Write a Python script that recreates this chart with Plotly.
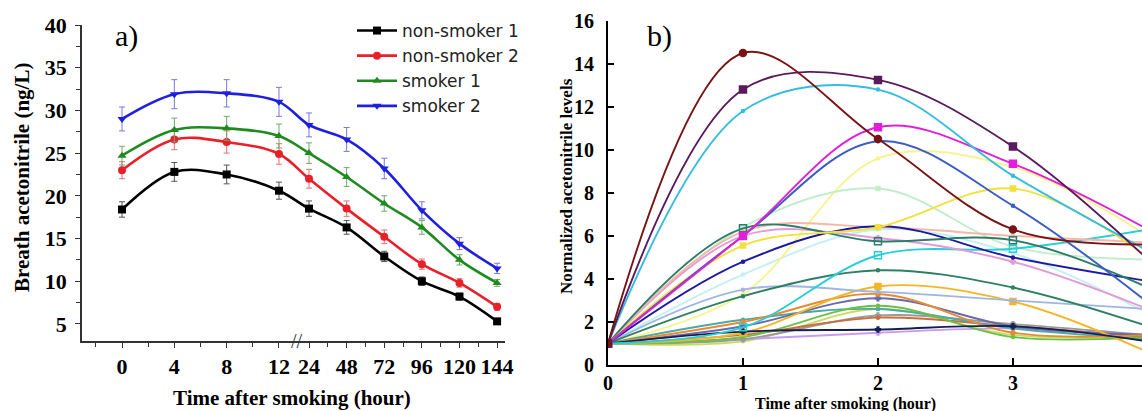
import plotly.graph_objects as go

# ---------------- Panel a data ----------------
times_a = [0, 4, 8, 12, 24, 48, 72, 96, 120, 144]
tick_labels_a = ["0", "4", "8", "12", "24", "48", "72", "96", "120", "144"]
names_a = ["non-smoker 1", "non-smoker 2", "smoker 1", "smoker 2"]
ns1 = [18.4, 22.8, 22.5, 20.6, 18.5, 16.3, 12.9, 10.0, 8.2, 5.3]
ns2 = [23.0, 26.6, 26.3, 24.9, 22.0, 18.5, 15.2, 12.0, 9.8, 7.0]
s1 = [24.7, 27.7, 27.9, 27.0, 25.0, 22.2, 19.1, 16.3, 12.5, 9.8]
s2 = [29.0, 31.9, 32.0, 31.0, 28.3, 26.6, 23.2, 18.3, 14.4, 11.5]
ns1_err = [0.9, 1.1, 1.1, 1.0, 0.9, 0.8, 0.6, 0.5, 0.4, 0.3]
ns2_err = [1.0, 1.2, 1.3, 1.2, 1.1, 0.9, 0.8, 0.6, 0.5, 0.4]
s1_err = [1.1, 1.4, 1.4, 1.4, 1.2, 1.1, 0.9, 0.8, 0.6, 0.4]
s2_err = [1.4, 1.7, 1.6, 1.7, 1.4, 1.4, 1.2, 1.0, 0.7, 0.6]

# ---------------- Panel b data ----------------
times_b = [0, 1, 2, 3, 4]
b_light_cyan = [1, 4.2, 6.3, 5.2, 2.4]
b_light_yellow = [1, 3.3, 9.6, 9.2, 6.0]
b_pale_green = [1, 6.4, 8.2, 5.5, 4.9]
b_yellowgreen = [1, 1.1, 2.6, 1.4, 1.3]
b_lavender = [1, 1.2, 1.5, 1.7, 1.3]
b_gray = [1, 1.2, 2.3, 1.9, 1.4]
b_brown = [1, 1.4, 2.2, 1.8, 1.3]
b_teal = [1, 2.1, 2.6, 1.7, 1.2]
b_lime = [1, 1.3, 2.75, 1.3, 1.3]
b_slate = [1, 1.8, 3.1, 1.8, 1.4]
b_orange = [1, 2.0, 3.3, 1.5, 1.4]
b_gold = [1, 1.5, 3.65, 2.95, 0.6]
b_steel = [1, 3.5, 3.4, 3.0, 2.6]
b_dark_green = [1, 3.2, 4.4, 3.6, 1.8]
b_navy = [1, 1.55, 1.65, 1.8, 1.1]
b_cyan2 = [1, 1.75, 5.1, 5.4, 6.3]
b_orchid = [1, 6.0, 5.9, 4.8, 2.6]
b_peach = [1, 6.2, 6.4, 6.0, 5.7]
b_dark_blue = [1, 4.8, 6.45, 5.0, 3.9]
b_dark_teal = [1, 6.35, 5.75, 5.8, 3.6]
b_yellow = [1, 5.55, 6.4, 8.2, 5.0]
b_blue = [1, 6.0, 10.4, 7.4, 2.9]
b_magenta = [1, 6.0, 11.05, 9.35, 6.3]
b_cyan = [1, 11.8, 12.8, 8.8, 5.3]
b_purple = [1, 12.8, 13.25, 10.15, 4.9]
b_maroon = [1, 14.5, 10.5, 6.3, 5.6]

W, H = 1142, 411
SERIF = "Liberation Serif"
SANS = "DejaVu Sans"

# broken time axis of panel a: 0-12 h linear, gap, 24-144 h compressed
def pos_a(t):
    if t <= 12:
        return t / 4.0
    return 3.574 + (t - 24) / 24.0 * 0.719

x_a = [pos_a(t) for t in times_a]

fig = go.Figure()

series_a = [
    (names_a[0], ns1, ns1_err, "#000000", "#555555", "square"),
    (names_a[1], ns2, ns2_err, "#e8202a", "#e07070", "circle"),
    (names_a[2], s1, s1_err, "#1f8a1f", "#70a870", "triangle-up"),
    (names_a[3], s2, s2_err, "#1f1fe0", "#7878d8", "triangle-down"),
]
for name, ys, err, col, ecol, sym in series_a:
    fig.add_trace(go.Scatter(
        x=x_a, y=ys, name=name, mode="lines+markers",
        line=dict(color=col, width=2.6, shape="spline", smoothing=1.0),
        marker=dict(symbol=sym, size=8, color=col),
        error_y=dict(type="data", array=err, color=ecol, thickness=1, width=3),
        xaxis="x", yaxis="y",
    ))

series_b = [
    (b_light_cyan, "#c4eff4", "circle", 3),
    (b_light_yellow, "#f6f48e", "circle", 3),
    (b_pale_green, "#c2edc9", "square", 4),
    (b_yellowgreen, "#c8dd60", "circle", 3),
    (b_lavender, "#c79cf0", "cross", 4),
    (b_gray, "#9a9a9a", "cross", 4),
    (b_brown, "#cc6e3a", "circle", 3),
    (b_teal, "#4fa8a2", "circle", 3),
    (b_lime, "#6cc04a", "circle", 3),
    (b_slate, "#6a6aa8", "cross", 4),
    (b_orange, "#e68a34", "circle", 4),
    (b_gold, "#f4b527", "square", 6),
    (b_steel, "#9fb6e2", "circle", 3),
    (b_dark_green, "#2f8063", "circle", 3),
    (b_navy, "#162050", "cross", 4),
    (b_cyan2, "#26cfd8", "square-open", 7),
    (b_orchid, "#e49ad6", "cross", 4),
    (b_peach, "#f3b8a8", "circle", 3),
    (b_dark_blue, "#1b1ba2", "circle", 3),
    (b_dark_teal, "#2e7d6b", "square-open", 7),
    (b_yellow, "#f4e03a", "square", 5),
    (b_blue, "#3b5cc4", "circle", 3),
    (b_magenta, "#e020d8", "square", 7),
    (b_cyan, "#35bde0", "circle", 3),
    (b_purple, "#5a1a5e", "square", 7),
    (b_maroon, "#7a1414", "circle", 7),
]
for ys, col, sym, ms in series_b:
    fig.add_trace(go.Scatter(
        x=times_b, y=ys, mode="lines+markers", showlegend=False,
        line=dict(color=col, width=1.9, shape="spline", smoothing=1.0),
        marker=dict(symbol=sym, size=ms, color=col, line=dict(width=1.5, color=col)),
        xaxis="x2", yaxis="y2",
    ))

xa_dom = [82 / W, 505 / W]
ya_dom = [1 - 341 / H, 1 - 25 / H]
xb_dom = [608 / W, 1.0]
yb_dom = [1 - 365 / H, 1 - 20.7 / H]

minor_a = [pos_a(t) for t in [2, 6, 10]] + [-0.5] + [pos_a(t) for t in [36, 60, 84, 108, 132]]

fig.update_layout(
    width=W, height=H,
    margin=dict(l=0, r=0, t=0, b=0, autoexpand=False),
    paper_bgcolor="white", plot_bgcolor="white",
    showlegend=True,
    legend=dict(x=352 / W, y=1 - 13 / H, xanchor="left", yanchor="top",
                font=dict(family=SANS, size=17, color="#222222"),
                bgcolor="rgba(0,0,0,0)", itemwidth=40, tracegroupgap=0),
    xaxis=dict(domain=xa_dom, range=[-0.765, 7.32], anchor="y", automargin=False,
               tickmode="array", tickvals=x_a, ticktext=tick_labels_a,
               ticks="outside", ticklen=5, tickwidth=1.3, tickcolor="#333",
               minor=dict(tickmode="array", tickvals=minor_a, ticks="outside",
                          ticklen=4, tickwidth=1.2, tickcolor="#333"),
               showline=True, linecolor="#333", linewidth=1.5,
               showgrid=False, zeroline=False,
               tickfont=dict(family=SERIF, size=22, color="black", weight="bold"),
               ticklabelstandoff=0),
    yaxis=dict(domain=ya_dom, range=[3, 40], anchor="x", automargin=False,
               tickmode="array", tickvals=[5, 10, 15, 20, 25, 30, 35, 40],
               ticks="outside", ticklen=5, tickwidth=1.3, tickcolor="#333",
               minor=dict(tickmode="array", tickvals=[7.5, 12.5, 17.5, 22.5, 27.5, 32.5, 37.5],
                          ticks="outside", ticklen=4, tickwidth=1.2, tickcolor="#333"),
               showline=True, linecolor="#333", linewidth=1.5,
               showgrid=False, zeroline=False,
               tickfont=dict(family=SERIF, size=22, color="black", weight="bold"),
               ticklabelstandoff=4),
    xaxis2=dict(domain=xb_dom, range=[0, 3.956], anchor="y2", automargin=False,
                tickmode="array", tickvals=[0, 1, 2, 3],
                ticks="inside", ticklen=7, tickwidth=1.5, tickcolor="black",
                showline=True, linecolor="black", linewidth=1.8,
                showgrid=False, zeroline=False,
                tickfont=dict(family=SERIF, size=20, color="black", weight="bold"),
                ticklabelstandoff=-1),
    yaxis2=dict(domain=yb_dom, range=[0, 16], anchor="x2", automargin=False,
                tickmode="array", tickvals=[0, 2, 4, 6, 8, 10, 12, 14, 16],
                ticks="inside", ticklen=6, tickwidth=1.5, tickcolor="black",
                showline=True, linecolor="black", linewidth=1.8,
                showgrid=False, zeroline=False,
                tickfont=dict(family=SERIF, size=20, color="black", weight="bold"),
                ticklabelstandoff=8),
)

annos = [
    dict(text="a)", x=126 / W, y=1 - 36 / H, font=dict(family=SERIF, size=30, color="black")),
    dict(text="b)", x=659 / W, y=1 - 36 / H, font=dict(family=SERIF, size=30, color="black")),
    dict(text="<b>Breath acetonitrile (ng/L)</b>", x=22 / W, y=1 - 178 / H, textangle=-90,
         font=dict(family=SERIF, size=21, color="black")),
    dict(text="<b>Time after smoking (hour)</b>", x=292 / W, y=1 - 398 / H,
         font=dict(family=SERIF, size=21, color="black")),
    dict(text="<b>Normalized acetonitrile levels</b>", x=566 / W, y=1 - 186 / H, textangle=-90,
         font=dict(family=SERIF, size=17, color="black")),
    dict(text="<b>Time after smoking (hour)</b>", x=845 / W, y=1 - 404 / H,
         font=dict(family=SERIF, size=16, color="black")),
]
for a in annos:
    fig.add_annotation(xref="paper", yref="paper", showarrow=False,
                       xanchor="center", yanchor="middle", **a)

# axis-break mark and the clipped "4" tick label of panel b
fig.add_annotation(xref="x", yref="paper", x=3.35, y=ya_dom[0], text="//", showarrow=False,
                   font=dict(family=SERIF, size=20, color="#333"), xanchor="center", yanchor="middle")
fig.add_annotation(xref="x2", yref="paper", x=4, y=1 - 381 / H, text="<b>4</b>", showarrow=False,
                   font=dict(family=SERIF, size=20, color="black"), xanchor="center", yanchor="middle")

fig.write_html("out.html")
